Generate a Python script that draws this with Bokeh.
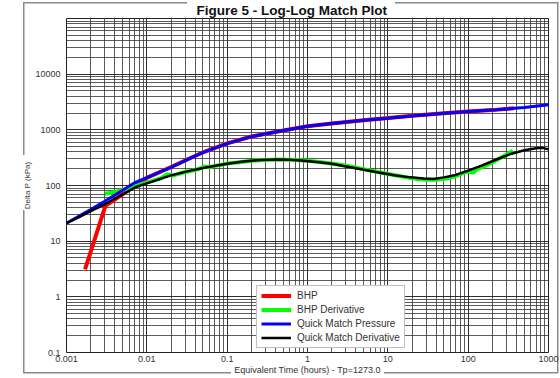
from bokeh.plotting import figure
from bokeh.models import (FixedTicker, CustomJSTickFormatter, Legend, LegendItem, Range1d)
from bokeh.embed import file_html
from bokeh.resources import INLINE

title_text = "Figure 5 - Log-Log Match Plot"
x_label = "Equivalent Time (hours) - Tp=1273.0"
y_label = "Delta P (kPa)"

x_ticks = [0.001, 0.01, 0.1, 1, 10, 100, 1000]
x_tick_labels = ["0.001", "0.01", "0.1", "1", "10", "100", "1000"]
y_ticks = [0.1, 1, 10, 100, 1000, 10000]
y_tick_labels = ["0.1", "1", "10", "100", "1000", "10000"]

# BHP (measured pressure change)
bhp_t = [0.0017, 0.00305, 0.004, 0.005, 0.007, 0.01, 0.02, 0.05, 0.1, 0.2, 0.5,
         1, 2, 5, 10, 20, 50, 100, 200, 370]
bhp_dp = [3.1, 43, 56, 70, 97, 137, 215, 395, 570, 760, 975,
          1165, 1305, 1485, 1625, 1785, 1985, 2145, 2260, 2440]

# BHP derivative
der_t = [0.003, 0.0036, 0.0045, 0.0055, 0.007, 0.009, 0.012, 0.015, 0.018, 0.021,
         0.025, 0.03, 0.037, 0.045, 0.052, 0.06, 0.07, 0.085, 0.1, 0.13, 0.17, 0.22,
         0.3, 0.45, 0.7, 1.0, 1.5, 2.2, 3.3, 5, 7.5, 11, 16, 22, 30, 40, 55, 70, 85,
         100, 115, 130, 150, 180, 220, 270, 320, 360]
der_dp = [71, 74, 80, 86, 96, 108, 122, 135, 160, 150,
          162, 175, 185, 200, 220, 212, 225, 235, 248, 258, 270, 280,
          288, 292, 286, 278, 262, 243, 222, 197, 175, 158, 143, 132, 127, 127, 134, 148, 165,
          180, 170, 200, 215, 240, 280, 330, 375, 425]

# Quick match pressure
qmp_t = [0.001, 0.002, 0.003, 0.005, 0.0072, 0.01, 0.02, 0.035, 0.056, 0.1, 0.2, 0.5,
         1, 2, 5, 10, 20, 50, 100, 200, 500, 1000]
qmp_dp = [21, 37, 52, 82, 114, 139, 212, 310, 420, 565, 755, 970,
          1160, 1300, 1480, 1620, 1780, 1980, 2140, 2260, 2520, 2830]

# Quick match derivative
qmd_t = [0.001, 0.0015, 0.002, 0.003, 0.005, 0.0072, 0.01, 0.02, 0.035, 0.056, 0.1,
         0.16, 0.26, 0.4, 0.6, 0.82, 1.3, 2, 3.4, 5, 8, 12, 19, 28, 37, 50, 70, 100,
         150, 220, 340, 500, 700, 850, 1000]
qmd_dp = [21, 28, 34.5, 46, 69, 93, 109, 152, 185, 212, 245,
          270, 288, 292, 290, 280, 265, 245, 212, 192, 170, 153, 140, 133, 131, 140, 155, 185,
          230, 290, 369, 430, 468, 475, 445]

FONT = "Liberation Sans"

# outer group-box frame, drawn as CSS background segments (gaps behind the texts)
G = "linear-gradient(#8a8a8a,#8a8a8a)"
frame_css = ", ".join([
    f"{G} 23px 2px / 164px 1.5px no-repeat",
    f"{G} 395px 2px / 163px 1.5px no-repeat",
    f"{G} 556.5px 2px / 1.5px 371px no-repeat",
    f"{G} 23px 371.5px / 208px 1.5px no-repeat",
    f"{G} 384px 371.5px / 174px 1.5px no-repeat",
    f"{G} 23px 2px / 1.5px 153px no-repeat",
    f"{G} 23px 210px / 1.5px 163px no-repeat",
])

p = figure(width=560, height=378, x_axis_type="log", y_axis_type="log",
           x_range=Range1d(0.001, 1000), y_range=Range1d(0.1, 100000),
           output_backend="svg", toolbar_location=None, title=title_text,
           min_border_left=66, min_border_right=12, min_border_top=18, min_border_bottom=26,
           styles={"background": frame_css})
p.background_fill_color = "white"
p.border_fill_alpha = 0
p.outline_line_color = "#222222"
p.outline_line_width = 1

p.title.text_font = FONT
p.title.text_font_size = "13.5px"
p.title.text_font_style = "bold"
p.title.text_color = "#111111"
p.title.align = "left"
p.title.offset = 130
p.title.standoff = 1

def minors(lo, hi):
    out = []
    for e in range(lo, hi):
        for m in range(2, 10):
            out.append(m * 10.0 ** e)
    return out

p.xaxis.ticker = FixedTicker(ticks=x_ticks, minor_ticks=minors(-3, 3))
p.yaxis.ticker = FixedTicker(ticks=y_ticks + [100000], minor_ticks=minors(-1, 5))

JS = """
for (let i = 0; i < tv.length; i++) { if (Math.abs(Math.log10(tv[i]) - Math.log10(tick)) < 1e-6) return tl[i]; }
return '';"""
p.xaxis.formatter = CustomJSTickFormatter(args=dict(tv=x_ticks, tl=x_tick_labels), code=JS)
p.yaxis.formatter = CustomJSTickFormatter(args=dict(tv=y_ticks, tl=y_tick_labels), code=JS)

for ax in (p.xaxis, p.yaxis):
    ax.axis_line_color = None
    ax.major_tick_line_color = None
    ax.minor_tick_line_color = None
    ax.major_tick_out = 0
    ax.major_tick_in = 0
    ax.minor_tick_out = 0
    ax.minor_tick_in = 0
    ax.major_label_text_font = FONT
    ax.major_label_text_font_size = "9px"
    ax.major_label_text_color = "#333333"
    ax.axis_label_text_font = FONT
    ax.axis_label_text_font_style = "normal"
    ax.axis_label_text_color = "#333333"
    ax.axis_label_standoff = 0
p.yaxis.major_label_standoff = 6
p.xaxis.major_label_standoff = 3
p.xaxis.axis_label = x_label
p.xaxis.axis_label_text_font_size = "9px"
p.yaxis.axis_label = y_label
p.yaxis.axis_label_text_font_size = "8px"

for g in (p.xgrid, p.ygrid):
    g.grid_line_color = "#1a1a1a"
    g.grid_line_width = 1
    g.grid_line_alpha = 0.9
    g.minor_grid_line_color = "#333333"
    g.minor_grid_line_width = 1
    g.minor_grid_line_alpha = 0.8

r_bhp = p.line(bhp_t, bhp_dp, line_color="#ff0000", line_width=4)
r_der = p.line(der_t, der_dp, line_color="#00ff00", line_width=4)
r_qmp = p.line(qmp_t, qmp_dp, line_color="#0000ff", line_width=3)
r_qmd = p.line(qmd_t, qmd_dp, line_color="#000000", line_width=2.5)

legend = Legend(items=[
    LegendItem(label="BHP", renderers=[r_bhp]),
    LegendItem(label="BHP Derivative", renderers=[r_der]),
    LegendItem(label="Quick Match Pressure", renderers=[r_qmp]),
    LegendItem(label="Quick Match Derivative", renderers=[r_qmd]),
], location=(190, 4))
legend.margin = 0
legend.padding = 4
legend.spacing = 3
legend.label_height = 11
legend.glyph_height = 11
legend.glyph_width = 30
legend.label_standoff = 6
legend.label_text_font = FONT
legend.label_text_font_size = "10px"
legend.label_text_color = "#333333"
legend.border_line_color = "#808080"
legend.border_line_width = 1
legend.background_fill_color = "white"
legend.background_fill_alpha = 1
p.add_layout(legend)

open("out.html", "w").write(file_html(p, INLINE))
